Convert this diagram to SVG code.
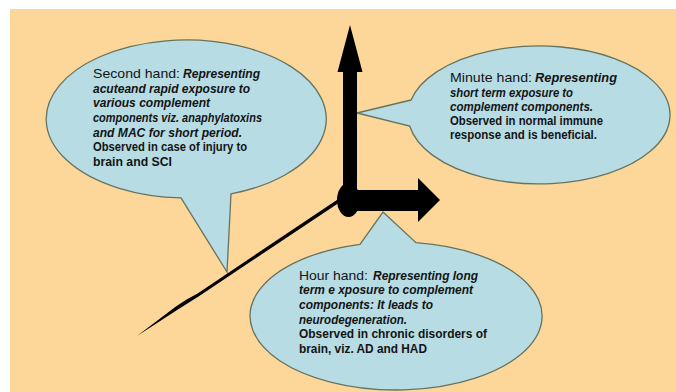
<svg xmlns="http://www.w3.org/2000/svg" width="676" height="392" viewBox="0 0 676 392">
  <style>
    .bubble { fill: #b7dce4; stroke: #66745f; stroke-width: 1.3; }
    .hand { fill: #000; }
    text { font-family: "Liberation Sans", Arial, sans-serif; fill: #141414; }
    .h { font-size: 13px; font-weight: normal; }
    .i { font-size: 12px; font-weight: bold; font-style: italic; }
    .b { font-size: 12px; font-weight: bold; }
  </style>
  <rect x="0" y="0" width="676" height="392" fill="#ffffff"/>
  <rect id="background" x="10" y="9" width="666" height="383" fill="#fdd79a"/>

  <g id="second-hand-bubble">
    <path class="bubble" d="M 181,197.9 L 227,272 L 231,193.8 A 140 79 0 1 0 181,197.9 Z"/>
    <text y="78"><tspan class="h" x="93" textLength="87" lengthAdjust="spacingAndGlyphs">Second hand:</tspan><tspan class="i" x="183" textLength="77" lengthAdjust="spacingAndGlyphs">Representing</tspan></text>
    <text class="i" x="93" y="93" textLength="157" lengthAdjust="spacingAndGlyphs">acuteand rapid exposure to</text>
    <text class="i" x="93" y="107" textLength="117" lengthAdjust="spacingAndGlyphs">various complement</text>
    <text class="i" x="93" y="122" textLength="169" lengthAdjust="spacingAndGlyphs">components viz. anaphylatoxins</text>
    <text class="i" x="93" y="137" textLength="149" lengthAdjust="spacingAndGlyphs">and MAC for short period.</text>
    <text class="b" x="93" y="151" textLength="154" lengthAdjust="spacingAndGlyphs">Observed in case of injury to</text>
    <text class="b" x="93" y="166" textLength="79" lengthAdjust="spacingAndGlyphs">brain and SCI</text>
  </g>

  <g id="minute-hand-bubble">
    <path class="bubble" d="M 411.1,100 L 357,113 L 409.7,126 A 131 69 0 1 0 411.1,100 Z"/>
    <text y="82"><tspan class="h" x="450" textLength="82" lengthAdjust="spacingAndGlyphs">Minute hand:</tspan><tspan class="i" x="535" textLength="82" lengthAdjust="spacingAndGlyphs">Representing</tspan></text>
    <text class="i" x="450" y="97" textLength="123" lengthAdjust="spacingAndGlyphs">short term exposure to</text>
    <text class="i" x="450" y="111" textLength="143" lengthAdjust="spacingAndGlyphs">complement components.</text>
    <text class="b" x="450" y="125" textLength="153" lengthAdjust="spacingAndGlyphs">Observed in normal immune</text>
    <text class="b" x="450" y="139" textLength="147" lengthAdjust="spacingAndGlyphs">response and is beneficial.</text>
  </g>

  <g id="hour-hand-bubble">
    <path class="bubble" d="M 360,244.3 L 383,212 L 416,242.7 A 146 74 0 1 1 360,244.3 Z"/>
    <text y="280"><tspan class="h" x="299" textLength="69" lengthAdjust="spacingAndGlyphs">Hour hand:</tspan><tspan class="i" x="373" textLength="105" lengthAdjust="spacingAndGlyphs">Representing long</tspan></text>
    <text class="i" x="299" y="294" textLength="174" lengthAdjust="spacingAndGlyphs">term e xposure to complement</text>
    <text class="i" x="299" y="309" textLength="134" lengthAdjust="spacingAndGlyphs">components: It leads to</text>
    <text class="i" x="299" y="324" textLength="108" lengthAdjust="spacingAndGlyphs">neurodegeneration.</text>
    <text class="b" x="299" y="338" textLength="188" lengthAdjust="spacingAndGlyphs">Observed in chronic disorders of</text>
    <text class="b" x="299" y="353" textLength="128" lengthAdjust="spacingAndGlyphs">brain, viz. AD and HAD</text>
  </g>

  <g id="clock-hands">
    <polygon id="second-hand" class="hand" points="342.1,196.6 197.6,293.4 186.6,299.5 175.9,306.5 137,336 177.9,309.4 188.6,302.7 198.9,296.2 343.9,199.4"/>
    <polygon id="minute-hand" class="hand" points="343,200 343,72 337.5,72 350,25 362.5,72 357,72 357,200"/>
    <polygon id="hour-hand" class="hand" points="349,190 418,190 418,178 440,200 418,222 418,211 349,211"/>
    <ellipse id="hub" class="hand" cx="348.5" cy="200" rx="11.5" ry="17"/>
  </g>
</svg>
